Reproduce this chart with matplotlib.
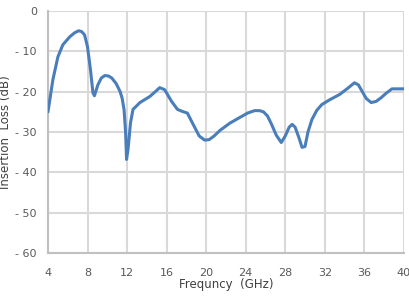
import numpy as np
import matplotlib
matplotlib.use("Agg")
import matplotlib.pyplot as plt

# frequency (GHz) and insertion loss (dB)
freq = [4.0, 4.5, 5.0, 5.5, 6.2, 6.7, 7.1, 7.4, 7.7, 8.0, 8.3, 8.55, 8.7,
        9.05, 9.4, 9.75, 10.1, 10.45, 10.9, 11.3, 11.5, 11.7, 11.85, 11.95,
        12.1, 12.35, 12.6, 13.3, 14.3, 14.9, 15.3, 15.8, 16.5, 17.1, 17.6, 18.1,
        18.6, 19.3, 19.85, 20.3, 20.8, 21.4, 22.4, 23.4, 24.2, 24.9, 25.4, 25.8,
        26.2, 26.6, 27.1, 27.6, 28.0, 28.4, 28.7, 29.0, 29.4, 29.7, 30.0, 30.3,
        30.7, 31.2, 31.7, 32.5, 33.5, 34.3, 35.0, 35.4, 35.8, 36.2, 36.7, 37.2,
        37.7, 38.2, 38.8, 39.4, 40.0]
loss = [-25.0, -17.0, -11.4, -8.4, -6.4, -5.4, -4.9, -5.1, -5.9, -8.9, -14.6,
        -20.3, -21.0, -18.3, -16.6, -16.0, -16.1, -16.6, -18.0, -20.0, -21.6,
        -24.5, -30.0, -36.8, -34.3, -27.7, -24.4, -22.7, -21.2, -19.9, -19.0,
        -19.5, -22.4, -24.4, -24.9, -25.3, -27.7, -31.0, -32.0, -31.9, -31.0,
        -29.6, -27.8, -26.4, -25.3, -24.7, -24.7, -25.0, -26.0, -28.0, -30.8,
        -32.6, -31.0, -28.8, -28.1, -28.8, -31.5, -33.8, -33.6, -30.0, -26.9,
        -24.6, -23.2, -22.0, -20.7, -19.2, -17.8, -18.3, -20.0, -21.7, -22.7,
        -22.4, -21.5, -20.4, -19.3, -19.3, -19.3]

x_ticks = [4, 8, 12, 16, 20, 24, 28, 32, 36, 40]
y_ticks = [0, -10, -20, -30, -40, -50, -60]
y_labels = ["0", "- 10", "- 20", "- 30", "- 40", "- 50", "- 60"]

plt.rcParams['font.family'] = ['Liberation Sans Narrow', 'DejaVu Sans']

fig = plt.figure(figsize=(4.10, 2.97), dpi=100)
ax = fig.add_axes([0.117, 0.148, 0.868, 0.815])

ax.plot(freq, loss, color='#4a7ebb', lw=2.2, solid_joinstyle='round',
        solid_capstyle='round', zorder=3)

ax.set_xlim(4, 40)
ax.set_ylim(-60, 0)
ax.set_xticks(x_ticks)
ax.set_yticks(y_ticks)
ax.set_yticklabels(y_labels)
ax.grid(True, color='#d9d9d9', lw=1.5)
ax.set_axisbelow(True)
ax.tick_params(length=0, labelsize=8, colors='#595959')
ax.tick_params(axis='x', pad=11)
ax.tick_params(axis='y', pad=8)

for s in ['top', 'right']:
    ax.spines[s].set_visible(False)
for s in ['left', 'bottom']:
    ax.spines[s].set_color('#c0c0c0')
    ax.spines[s].set_linewidth(1.5)

ax.set_xlabel('Frequncy  (GHz)', fontsize=8.5, color='#404040', labelpad=0)
ax.set_ylabel('Insertion  Loss (dB)', fontsize=8.5, color='#404040')
ax.yaxis.set_label_coords(-0.1, 0.5)

fig.savefig('out.png', dpi=100)
